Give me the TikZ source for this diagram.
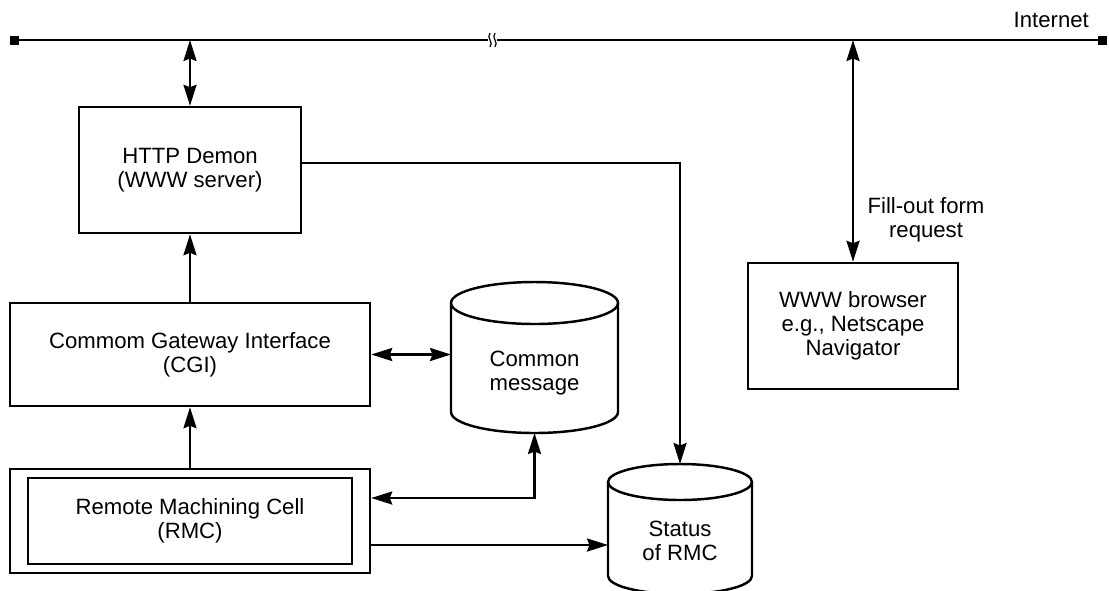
\documentclass[tikz,border=0pt]{standalone}
\usepackage{fontspec}
\setmainfont{Liberation Sans}
\usepackage{tikz}
\usetikzlibrary{calc,positioning,arrows.meta}

\begin{document}
\begin{tikzpicture}[
  txt/.style={align=center, font=\fontsize{12.6}{13.7}\selectfont},
  box/.style={draw, line width=1.4pt, inner sep=0pt, txt},
  drum/.style={line width=1.4pt},
  link/.style={line width=1.4pt, -{Stealth[length=0.42cm, width=0.26cm, inset=0.05cm]}},
  both/.style={line width=1.4pt, {Stealth[length=0.42cm, width=0.26cm, inset=0.05cm]}-{Stealth[length=0.42cm, width=0.26cm, inset=0.05cm]}},
  endsq/.style={fill, inner sep=0pt, minimum size=0.18cm},
]
  \useasboundingbox (0,0) rectangle (22.18,-11.8);

  % Internet backbone
  \node[endsq] (inL) at (0.29,-0.8) {};
  \node[endsq] (inR) at (22.04,-0.8) {};
  \coordinate (gapL) at (9.76,-0.8);
  \coordinate (gapR) at (9.94,-0.8);
  \draw[line width=1.6pt] (inL.center) -- (gapL);
  \draw[line width=1.6pt] (gapR) -- (inR.center);
  \draw[line width=0.7pt] (9.8,-0.66) .. controls (9.72,-0.76) and (9.88,-0.84) .. (9.8,-0.94);
  \draw[line width=0.7pt] (9.9,-0.66) .. controls (9.82,-0.76) and (9.98,-0.84) .. (9.9,-0.94);
  \node[txt, anchor=east] (inet) at (21.9,-0.4) {Internet};

  % Boxes
  \node[box, minimum width=4.44cm, minimum height=2.52cm] (http) at (3.8,-3.4)
    {HTTP Demon\\(WWW server)};
  \node[box, minimum width=7.2cm, minimum height=2.06cm] (cgi) at (3.8,-7.09)
    {Commom Gateway Interface\\(CGI)};
  \node[box, minimum width=6.48cm, minimum height=1.72cm] (rmc) at (3.8,-10.42)
    {Remote Machining Cell\\(RMC)};
  \node[draw, line width=1.4pt, minimum width=7.2cm, minimum height=2.08cm] (rmcbox) at (3.8,-10.42) {};
  \node[box, minimum width=4.2cm, minimum height=2.52cm] (browser) at (17.06,-6.52)
    {WWW browser\\e.g., Netscape\\Navigator};

  % Databases
  \draw[drum] (9.02,-6.06) -- (9.02,-8.24)
    arc[start angle=180, end angle=360, x radius=1.67cm, y radius=0.42cm] -- (12.36,-6.06);
  \draw[drum] (10.69,-6.06) ellipse [x radius=1.67cm, y radius=0.42cm];
  \coordinate (cmsgW) at (9.02,-7.08);
  \coordinate (cmsgS) at (10.69,-8.66);
  \node[txt] (cmsg) at (10.69,-7.46) {Common\\message};

  \draw[drum] (12.16,-9.64) -- (12.16,-11.52)
    arc[start angle=180, end angle=360, x radius=1.44cm, y radius=0.36cm] -- (15.04,-9.64);
  \draw[drum] (13.6,-9.64) ellipse [x radius=1.44cm, y radius=0.36cm];
  \coordinate (statN) at (13.6,-9.28);
  \coordinate (statW) at (12.16,-10.9);
  \node[txt] (stat) at (13.6,-10.82) {Status\\of RMC};

  % Connectors
  \coordinate (tapA) at (http.north |- inL);
  \coordinate (tapB) at (browser.north |- inL);
  \draw[both] (tapA) -- (http.north);
  \draw[both] (tapB) -- (browser.north);
  \node[txt] (req) at (18.52,-4.4) {Fill-out form\\request};
  \draw[link] (cgi.north) -- (http.south);
  \draw[link] (rmcbox.north) -- (cgi.south);
  \draw[both] (cgi.east) -- (cgi.east -| cmsgW);
  \draw[link] ([yshift=0.14cm]http.east) -| (statN);
  \draw[both] ([yshift=0.46cm]rmcbox.east) -| (cmsgS);
  \draw[link] ([yshift=-0.48cm]rmcbox.east) -- ([yshift=-0.48cm]rmcbox.east -| statW);
\end{tikzpicture}
\end{document}
